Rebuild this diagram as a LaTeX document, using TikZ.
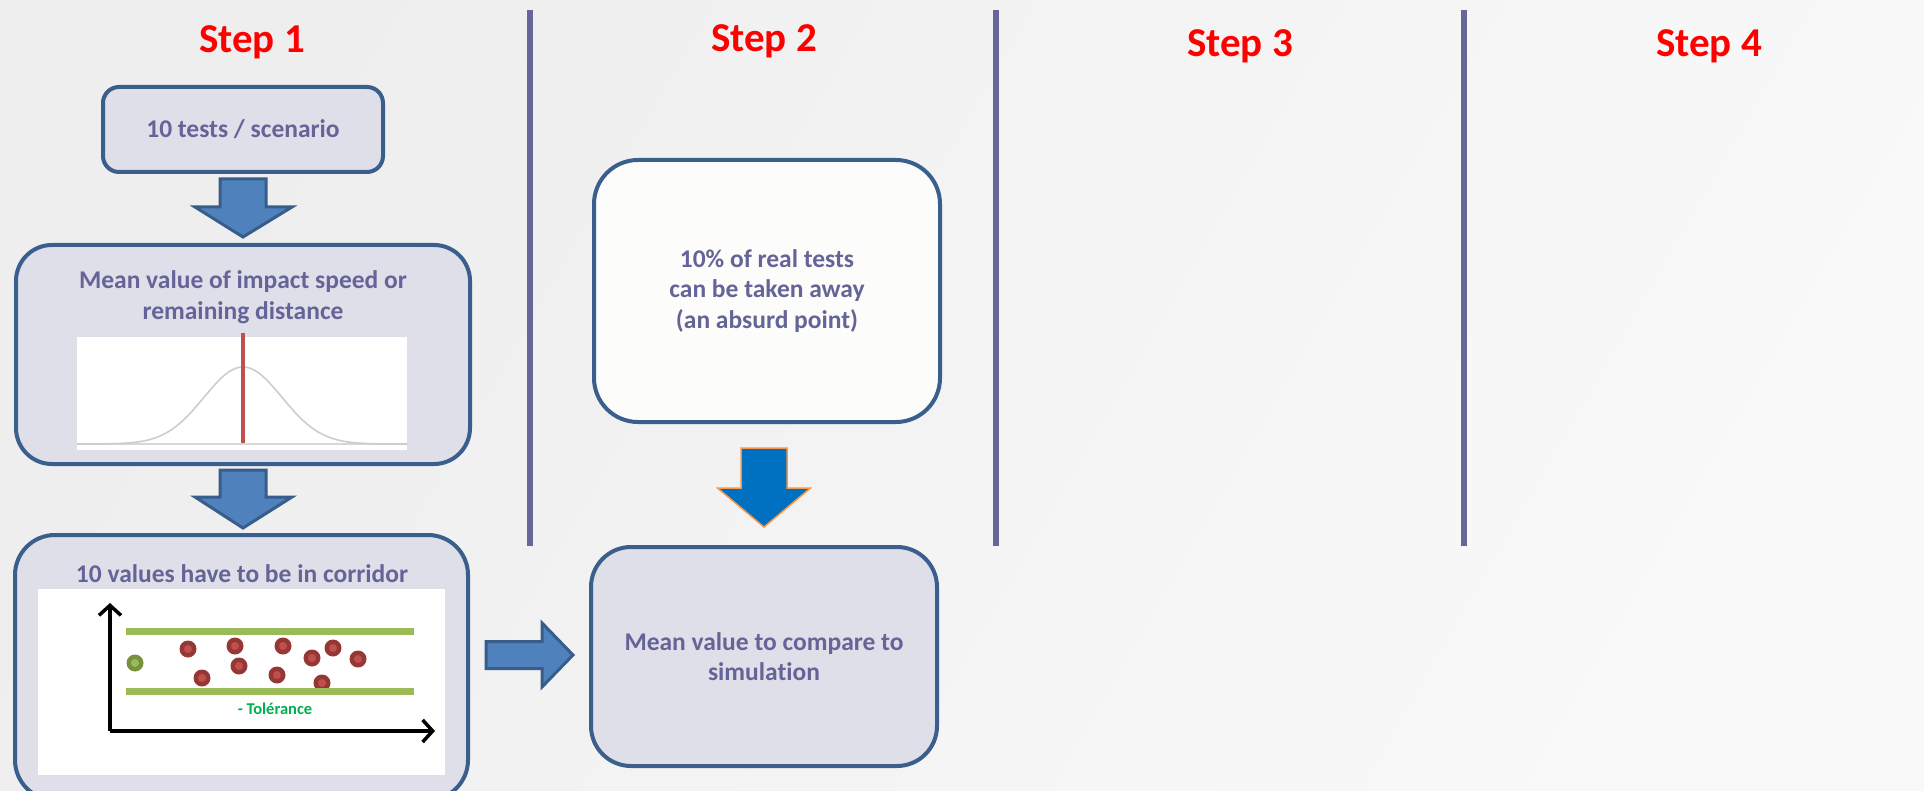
\documentclass[tikz,border=0pt]{standalone}
\usepackage{fontspec}
\setmainfont{Carlito}[Ligatures=NoCommon]
\usetikzlibrary{arrows.meta}
\definecolor{boxline}{RGB}{58,95,140}
\definecolor{boxfill}{RGB}{223,223,233}
\definecolor{txt}{RGB}{100,100,152}
\definecolor{divider}{RGB}{102,102,153}
\definecolor{arrfill}{RGB}{79,129,189}
\definecolor{arrline}{RGB}{56,93,138}
\definecolor{arrfillb}{RGB}{0,112,192}
\definecolor{arrlineb}{RGB}{247,150,70}
\definecolor{bandgreen}{RGB}{155,187,89}
\definecolor{dotred}{RGB}{192,80,77}
\definecolor{dotdark}{RGB}{149,55,53}
\definecolor{dotgreendark}{RGB}{118,146,60}
\definecolor{tolgreen}{RGB}{0,176,80}
\definecolor{bg1}{RGB}{238,238,238}
\definecolor{bg2}{RGB}{249,249,249}
\begin{document}
\begin{tikzpicture}[x=1pt,y=-1pt,
  box/.style={draw=boxline, line width=4pt, fill=boxfill, text=txt,
    font=\fontsize{25.5}{30.5}\selectfont\bfseries, align=center, inner sep=0pt},
  boxtext/.style={text=txt, font=\fontsize{25.5}{30.5}\selectfont\bfseries, align=center, inner sep=0pt},
  steplabel/.style={text=red, font=\fontsize{41}{48}\selectfont\bfseries, anchor=base, inner sep=0pt},
  divline/.style={draw=divider, line width=6pt},
  blockarrow/.style={fill=arrfill, draw=arrline, line width=3pt, line join=miter},
  blockarrowb/.style={fill=arrfillb, draw=arrlineb, line width=1.5pt, line join=miter},
  band/.style={draw=bandgreen, line width=7pt},
  axis/.style={draw=black, line width=3.5pt, -{Straight Barb[length=10pt,width=22pt,line width=3.5pt]}},
  reddot/.pic={\fill[dotdark] (0,0) circle (8.5); \fill[dotred] (0,0) circle (4);},
  greendot/.pic={\fill[dotgreendark] (0,0) circle (8.5); \fill[bandgreen] (0,0) circle (4);}
]
\useasboundingbox (0,0) rectangle (1924,791);
\clip (0,0) rectangle (1924,791);
\shade[left color=bg1, right color=bg2, shading angle=60] (0,0) rectangle (1924,791);

% step labels
\node[steplabel] (s1) at (252,53) {Step 1};
\node[steplabel] (s2) at (764,52) {Step 2};
\node[steplabel] (s3) at (1240,57) {Step 3};
\node[steplabel] (s4) at (1709,57) {Step 4};

% dividers
\coordinate (d1t) at (530,10); \coordinate (d1b) at (530,546);
\coordinate (d2t) at (996,10); \coordinate (d2b) at (996,546);
\coordinate (d3t) at (1464,10); \coordinate (d3b) at (1464,546);
\draw[divline] (d1t) -- (d1b);
\draw[divline] (d2t) -- (d2b);
\draw[divline] (d3t) -- (d3b);

% Step 1 boxes
\node[box, rounded corners=16pt, minimum width=280pt, minimum height=85pt] (b1) at (243,129.5) {10 tests / scenario};

\node[box, rounded corners=36pt, minimum width=454pt, minimum height=219pt] (b2) at (243,354.5) {};
\node[boxtext] (b2t) at (243,297) {Mean value of impact speed or\\remaining distance};
\fill[white] (77,337) rectangle (407,450);
\draw[color={rgb,255:red,215;green,215;blue,215}, line width=1.2pt] (77,444) -- (407,444);
\draw[color={rgb,255:red,205;green,205;blue,205}, line width=1.6pt, domain=77:407, samples=120, smooth]
  plot (\x, {444-77*exp(-((\x-243)/39)^2/2)});
\draw[dotred, line width=4pt] (243,333) -- (243,443);

\node[box, rounded corners=40pt, minimum width=453pt, minimum height=265pt] (b3) at (241.5,667.5) {};
\node[boxtext, anchor=base] (b3t) at (242,582) {10 values have to be in corridor};
\fill[white] (38,589) rectangle (445,775);
% dots
\pic at (135,663) {greendot};
\foreach \p in {(188,649),(202,678),(235,646),(239,666),(283,646),(277,675),(312,658),(333,648),(358,659),(322,683)}
  \pic at \p {reddot};
\draw[band] (126,631) -- (414,631);
\draw[band] (126,691) -- (414,691);
\node[text=tolgreen, font=\fontsize{16.5}{19}\selectfont\bfseries, inner sep=0pt] (tol) at (275,709) {- Tolérance};
\coordinate (orig) at (110,731);
\coordinate (ytip) at (110,603);
\coordinate (xtip) at (435,731);
\draw[axis] (orig) -- (ytip);
\draw[axis] (orig) -- (xtip);

% block arrows step 1
\draw[blockarrow] (220,179) -- (266,179) -- (266,207) -- (292,207) -- (243,237) -- (195,207) -- (220,207) -- cycle;
\draw[blockarrow] (220,470) -- (266,470) -- (266,497) -- (292,497) -- (243,528) -- (195,497) -- (220,497) -- cycle;
\draw[blockarrow] (486,641.5) -- (542,641.5) -- (542,623) -- (573,655) -- (542,687) -- (542,668.5) -- (486,668.5) -- cycle;

% Step 2 boxes
\node[box, fill={rgb,255:red,252;green,252;blue,250}, rounded corners=44pt, minimum width=346pt, minimum height=262pt] (b4) at (767,291) {10\% of real tests\\can be taken away\\(an absurd point)};
\draw[blockarrowb] (741,448) -- (787,448) -- (787,488) -- (810.5,488) -- (764,527) -- (717.5,488) -- (741,488) -- cycle;
\node[box, rounded corners=40pt, minimum width=346pt, minimum height=219pt] (b5) at (764,656.5) {Mean value to compare to\\simulation};
\end{tikzpicture}
\end{document}
